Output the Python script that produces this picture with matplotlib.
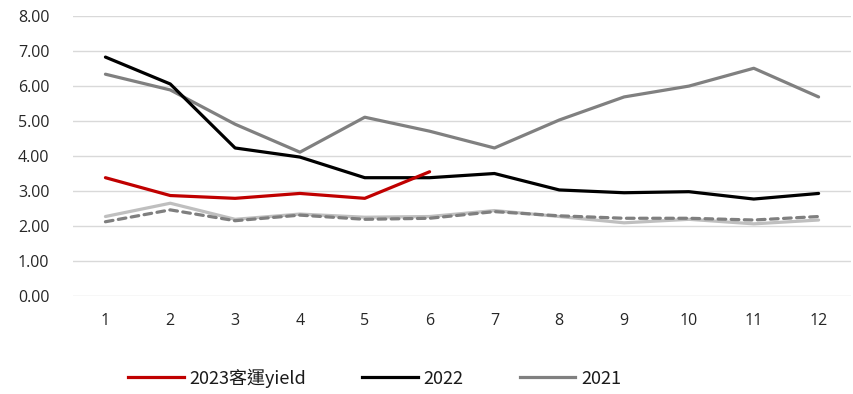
import matplotlib
import numpy as np

matplotlib.use("Agg")

from matplotlib import pyplot as plt  # noqa: E402
from matplotlib.lines import Line2D  # noqa: E402

months = [1, 2, 3, 4, 5, 6, 7, 8, 9, 10, 11, 12]
month_labels = [str(m) for m in months]

yield_2023 = [3.38, 2.87, 2.79, 2.93, 2.79, 3.55]
yield_2022 = [6.83, 6.06, 4.23, 3.97, 3.38, 3.38, 3.50, 3.03, 2.95, 2.98, 2.77, 2.93]
yield_2021 = [6.34, 5.89, 4.91, 4.11, 5.11, 4.71, 4.23, 5.03, 5.69, 6.00, 6.51, 5.69]
light_series = [2.27, 2.65, 2.19, 2.34, 2.25, 2.27, 2.44, 2.27, 2.09, 2.19, 2.06, 2.17]
dashed_series = [2.12, 2.46, 2.15, 2.31, 2.19, 2.22, 2.41, 2.29, 2.22, 2.22, 2.17, 2.27]

y_ticks = np.arange(0, 8.01, 1.0)

plt.rcParams["font.family"] = ["Noto Sans CJK TC", "DejaVu Sans"]

fig = plt.figure(figsize=(8.54, 3.94), dpi=100, facecolor="white")
ax = fig.add_axes([0.0855, 0.249, 0.911, 0.710])

lw = 2.3
x = np.arange(len(months))
ax.plot(x, light_series, color="#bfbfbf", linewidth=lw, solid_capstyle="round", zorder=2)
ax.plot(x, dashed_series, color="#7f7f7f", linewidth=lw, linestyle=(0, (2.4, 1.7)),
        dash_capstyle="round", zorder=3)
ax.plot(x, yield_2021, color="#808080", linewidth=lw, solid_capstyle="round", zorder=4)
ax.plot(x, yield_2022, color="#000000", linewidth=lw, solid_capstyle="round", zorder=5)
ax.plot(x[:len(yield_2023)], yield_2023, color="#c00000", linewidth=lw,
        solid_capstyle="round", zorder=6)

ax.set_xlim(-0.5, len(months) - 0.5)
ax.set_ylim(0, 8)
ax.set_yticks(y_ticks)
ax.set_yticklabels([f"{v:.2f}" for v in y_ticks])
ax.set_xticks(x)
ax.set_xticklabels(month_labels)
for lab in ax.get_xticklabels() + ax.get_yticklabels():
    lab.set_family(["Open Sans", "DejaVu Sans"])
ax.tick_params(axis="both", length=0, labelsize=11.5, colors="#262626")
ax.tick_params(axis="y", pad=17)
ax.tick_params(axis="x", pad=12)
ax.grid(axis="y", color="#d9d9d9", linewidth=1.0)
for spine in ax.spines.values():
    spine.set_visible(False)

handles = [
    Line2D([], [], color="#c00000", linewidth=lw),
    Line2D([], [], color="#000000", linewidth=lw),
    Line2D([], [], color="#808080", linewidth=lw),
]
leg = fig.legend(
    handles,
    ["2023客運yield", "2022", "2021"],
    loc="center",
    bbox_to_anchor=(0.4385, 0.041),
    ncol=3,
    frameon=False,
    prop={"family": ["Liberation Sans Narrow", "Noto Sans CJK TC"], "size": 13},
    handlelength=3.1,
    handletextpad=0.3,
    columnspacing=3.1,
)
for t in leg.get_texts():
    t.set_color("#1a1a1a")

fig.savefig("out.png", dpi=100, facecolor="white")
